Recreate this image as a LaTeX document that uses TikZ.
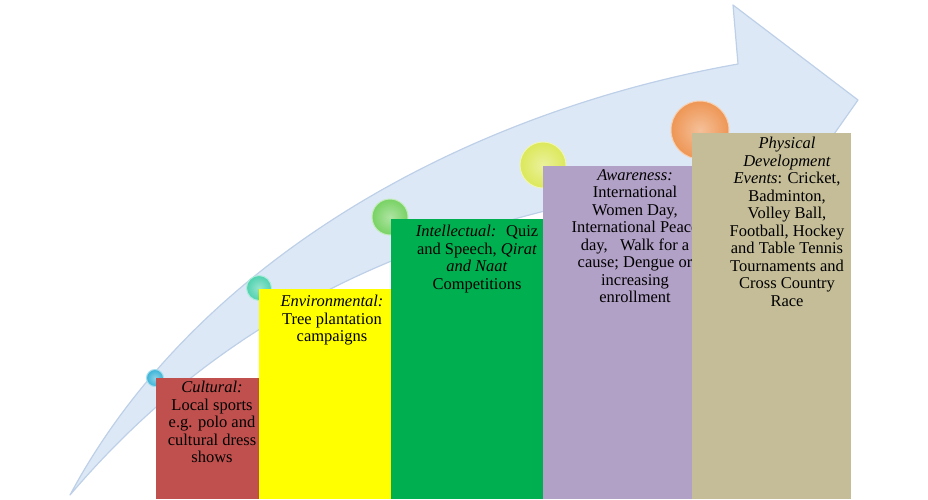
\documentclass[tikz,border=0pt]{standalone}
\usepackage{fontspec}
\setmainfont{Liberation Serif}
\definecolor{bandblue}{RGB}{220,232,246}
\definecolor{bandedge}{RGB}{190,208,232}
\definecolor{boxred}{RGB}{192,80,77}
\definecolor{boxyellow}{RGB}{255,255,0}
\definecolor{boxgreen}{RGB}{0,176,80}
\definecolor{boxpurple}{RGB}{178,161,199}
\definecolor{boxtan}{RGB}{196,189,151}
\definecolor{ballblue}{RGB}{60,180,215}
\definecolor{ballteal}{RGB}{80,210,175}
\definecolor{ballgreen}{RGB}{120,210,100}
\definecolor{ballyellow}{RGB}{220,232,90}
\definecolor{ballorange}{RGB}{238,150,85}

\begin{document}
\begin{tikzpicture}[x=1pt, y=-1pt,
    box/.style={rectangle, draw=none, inner sep=0pt, anchor=north west},
    txt/.style={align=center, inner sep=0pt, anchor=north, font=\fontsize{16.5}{17.5}\selectfont},
    ball/.style={circle, inner sep=0pt, line width=1pt, draw=#1!45!white, inner color=#1!60!white, outer color=#1}]
    \useasboundingbox (0,0) rectangle (928,499);
    % Arrow
    \draw[bandedge, fill=bandblue, line width=1.2pt, line join=round]
        (70,495) .. controls (190,270) and (450,115) .. (738,64)
        -- (733,5) -- (858,100) -- (770,225) -- (755,172)
        .. controls (520,205) and (270,260) .. (70,495) -- cycle;
    % Balls
    \node[ball=ballblue, minimum size=17] (b1) at (155,378) {};
    \node[ball=ballteal, minimum size=25] (b2) at (259,288) {};
    \node[ball=ballgreen, minimum size=36] (b3) at (390,217) {};
    \node[ball=ballyellow, minimum size=46] (b4) at (543,165) {};
    \node[ball=ballorange, minimum size=58] (b5) at (700,130) {};
    % Steps
    \node[box, fill=boxred, minimum width=103, minimum height=121] (1) at (156,378) {};
    \node[txt] (t1) at (212,381) {\textit{Cultural:}\\Local sports\\e.g. polo and\\cultural dress\\shows};
    \node[box, fill=boxyellow, minimum width=132, minimum height=210] (2) at (259,289) {};
    \node[txt] (t2) at (332,295) {\textit{Environmental:}\\Tree plantation\\campaigns};
    \node[box, fill=boxgreen, minimum width=152, minimum height=280] (3) at (391,219) {};
    \node[txt] (t3) at (477,225) {\textit{Intellectual:}~ Quiz\\and Speech, \textit{Qirat}\\\textit{and Naat}\\Competitions};
    \node[box, fill=boxpurple, minimum width=149, minimum height=333] (4) at (543,166) {};
    \node[txt] (t4) at (635,169) {\textit{Awareness:}\\International\\Women Day,\\International Peace\\day, ~ Walk for a\\cause; Dengue or\\increasing\\enrollment};
    \node[box, fill=boxtan, minimum width=159, minimum height=366] (5) at (692,133) {};
    \node[txt] (t5) at (787,137) {\textit{Physical}\\\textit{Development}\\\textit{Events}: Cricket,\\Badminton,\\Volley Ball,\\Football, Hockey\\and Table Tennis\\Tournaments and\\Cross Country\\Race};
\end{tikzpicture}
\end{document}
